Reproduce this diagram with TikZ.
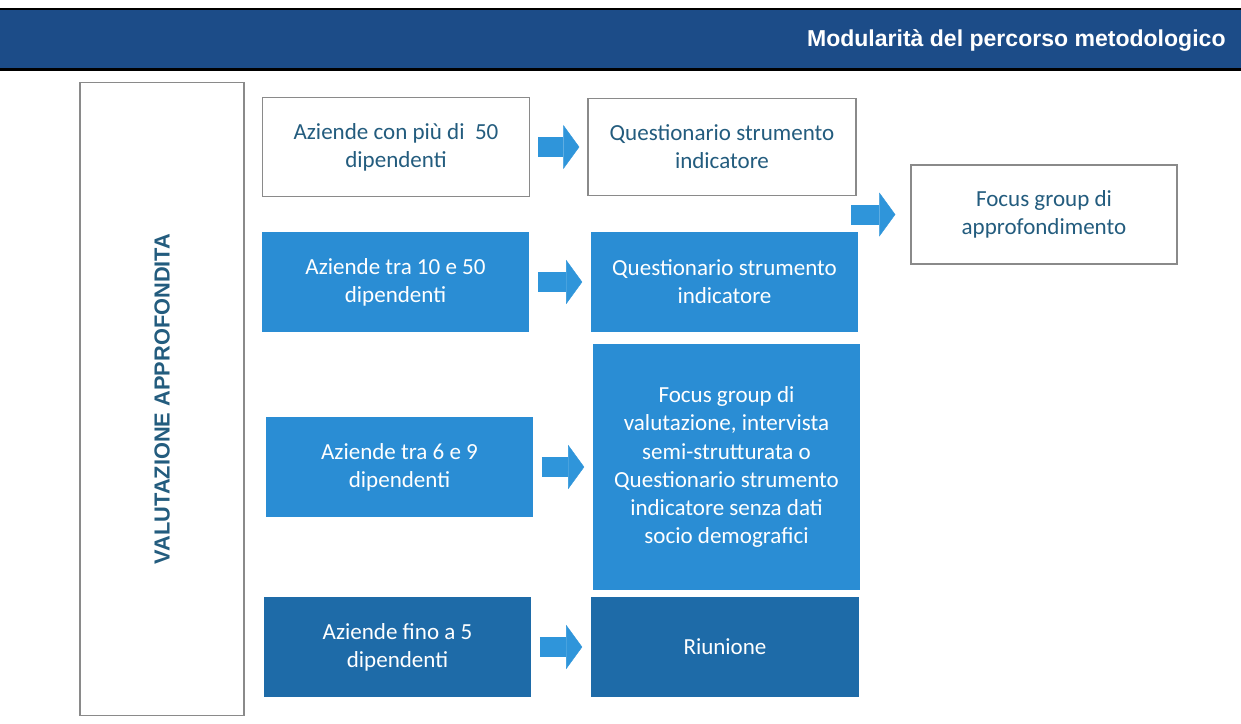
\documentclass[tikz,border=0pt]{standalone}
\usepackage{fontspec}
\setmainfont{Carlito}
\newfontfamily\headfont{Liberation Sans}
\usetikzlibrary{arrows.meta}

\definecolor{bandblue}{HTML}{1C4C88}
\definecolor{lightbox}{HTML}{2A8DD4}
\definecolor{darkbox}{HTML}{1E6BA8}
\definecolor{arrowblue}{HTML}{2F95DA}
\definecolor{inkblue}{HTML}{235C7E}
\definecolor{edgegray}{HTML}{8A8A8A}

\tikzset{
  box/.style={rectangle, minimum width=2.67cm, minimum height=0.99cm, inner sep=0pt,
    align=center, font=\fontsize{6.55}{7.97}\selectfont},
  plainbox/.style={box, draw=edgegray, line width=0.35pt, fill=white, text=inkblue},
  lightbox/.style={box, fill=lightbox, text=white},
  darkbox/.style={box, fill=darkbox, text=white},
  blockarrow/.style={color=arrowblue, line width=0.20cm,
    -{Triangle[length=0.16cm, width=0.44cm, line width=0.1pt, color=arrowblue, fill=arrowblue]},
    shorten <=0.08cm, shorten >=0.08cm},
}

\begin{document}
\begin{tikzpicture}[x=0.01cm, y=-0.01cm]
	\useasboundingbox (0,0) rectangle (1241,723);

	% header band
	\fill[bandblue] (0,10) rectangle (1241,68);
	\draw[black, line width=0.02cm] (0,9) -- (1241,9);
	\draw[black, line width=0.03cm] (0,69) -- (1241,69);
	\node[anchor=east, text=white, font=\headfont\bfseries\fontsize{6.55}{8}\selectfont] (title) at (1238,40) {Modularità del percorso metodologico};

	% left column
	\node[draw=edgegray, line width=0.35pt, rotate=90, minimum width=6.32cm, minimum height=1.64cm, inner sep=0pt,
		text=inkblue, font=\headfont\bfseries\fontsize{6.2}{7}\selectfont] (left) at (162,399) {VALUTAZIONE APPROFONDITA};

	\begin{scope}
	\node[plainbox] (1-1) at (396,147) {Aziende con più di \ 50\\dipendenti};
	\node[plainbox, minimum width=2.68cm, minimum height=0.97cm] (1-2) at (722,147) {Questionario strumento\\indicatore};

	\node[lightbox] (2-1) at (395.5,282) {Aziende tra 10 e 50\\dipendenti};
	\node[lightbox] (2-2) at (724.5,282) {Questionario strumento\\indicatore};

	\node[lightbox, minimum height=1.00cm] (3-1) at (399.5,467) {Aziende tra 6 e 9\\dipendenti};
	\node[lightbox, minimum height=2.46cm] (3-2) at (726.5,467) {Focus group di\\valutazione, intervista\\semi-strutturata o\\Questionario strumento\\indicatore senza dati\\socio demografici};

	\node[darkbox] (4-1) at (397.5,647) {Aziende fino a 5\\dipendenti};
	\node[darkbox, minimum width=2.68cm, minimum height=1.00cm] (4-2) at (725,647) {Riunione};

	\node[plainbox, minimum width=2.66cm] (focus) at (1044,214.5) {Focus group di\\approfondimento};
	\end{scope}

	\coordinate (join) at (851,214.5);

	\draw [blockarrow] (1-1) -- (1-2);
	\draw [blockarrow] (2-1) -- (2-2);
	\draw [blockarrow] (3-1) -- (3-2);
	\draw [blockarrow] (4-1) -- (4-2);

	\draw [blockarrow, shorten <=0cm, shorten >=0.15cm] (join) -- (focus);

\end{tikzpicture}
\end{document}
